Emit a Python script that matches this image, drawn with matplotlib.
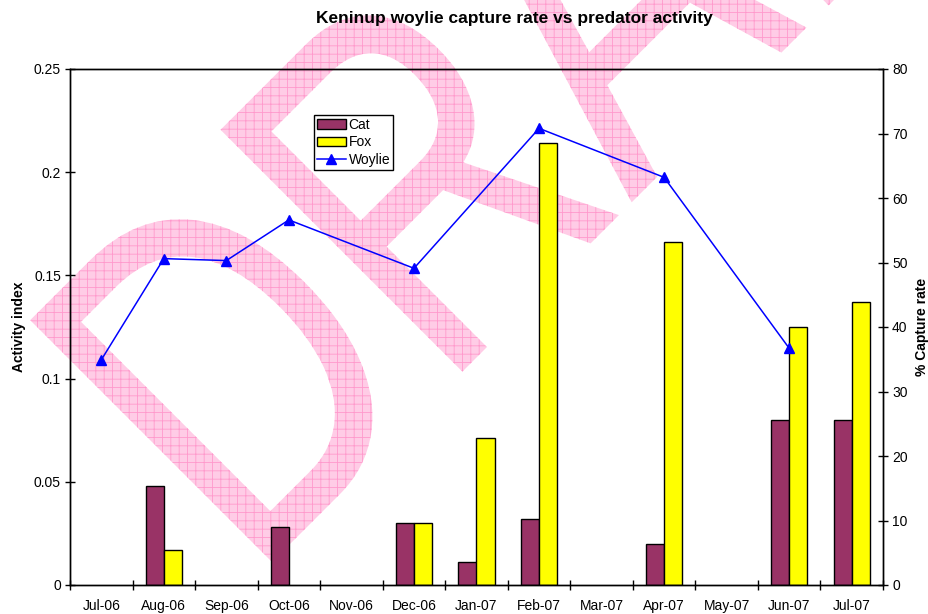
import numpy as np
import matplotlib
matplotlib.use("Agg")
import matplotlib.pyplot as plt
from matplotlib.textpath import TextPath
from matplotlib.font_manager import FontProperties
from matplotlib.patches import PathPatch
from matplotlib.transforms import Affine2D, IdentityTransform

plt.rcParams['font.family'] = ['Liberation Sans', 'DejaVu Sans']
plt.rcParams['hatch.linewidth'] = 0.6

months = ['Jul-06', 'Aug-06', 'Sep-06', 'Oct-06', 'Nov-06', 'Dec-06', 'Jan-07',
          'Feb-07', 'Mar-07', 'Apr-07', 'May-07', 'Jun-07', 'Jul-07']
cat = [np.nan, 0.048, np.nan, 0.028, np.nan, 0.030, 0.011,
       0.032, np.nan, 0.020, np.nan, 0.080, 0.080]
fox = [np.nan, 0.017, np.nan, np.nan, np.nan, 0.030, 0.071,
       0.214, np.nan, 0.166, np.nan, 0.125, 0.137]
woylie = [34.9, 50.6, 50.3, 56.6, np.nan, 49.1, np.nan,
          70.8, np.nan, 63.2, np.nan, 36.7, np.nan]

W, H = 929, 614
fig = plt.figure(figsize=(W / 100, H / 100), dpi=100)
fig.patch.set_facecolor('white')

# big hatched "DRAFT" stamp behind the chart
fp = FontProperties(family='Liberation Sans')
d_ext = TextPath((0, 0), 'D', size=100, prop=fp).get_extents()
k = 342 / d_ext.height
word = TextPath((0, 0), 'DRAFT', size=100, prop=fp)
stamp = (Affine2D().translate(-d_ext.x0, 0).scale(0.75 * k, k)
         .rotate_deg(45).translate(272, H - 562))
fig.add_artist(PathPatch(stamp.transform_path(word), facecolor='#ffcce6',
                         edgecolor='#ff99cc', hatch='++', linewidth=0,
                         transform=IdentityTransform(), zorder=-5))

ax = fig.add_axes([70 / W, (H - 585) / H, 813 / W, 516 / H])
ax.set_facecolor('none')
ax2 = ax.twinx()
ax2.set_facecolor('none')

x = np.arange(len(months))
bw = 0.29
ax.bar(x - bw / 2, cat, bw, color='#993366', edgecolor='black', linewidth=1, label='Cat')
ax.bar(x + bw / 2, fox, bw, color='#ffff00', edgecolor='black', linewidth=1, label='Fox')

w = np.array(woylie)
ok = ~np.isnan(w)
ax2.plot(x[ok], w[ok], color='#0000ff', lw=1.1, marker='^', ms=6.5, label='Woylie')

ax.set_xlim(-0.5, len(months) - 0.5)
ax.set_ylim(0, 0.25)
ax2.set_ylim(0, 80)
ax.set_yticks([0, 0.05, 0.1, 0.15, 0.2, 0.25])
ax.set_yticklabels(['0', '0.05', '0.1', '0.15', '0.2', '0.25'])
ax2.set_yticks(range(0, 90, 10))

ax.set_xticks(np.arange(-0.5, len(months)), labels=[])
ax.set_xticks(x, labels=months, minor=True)
ax.tick_params(axis='x', which='major', direction='inout', length=7, width=1)
ax.tick_params(axis='x', which='minor', length=0, pad=10, labelsize=10)
ax.tick_params(axis='y', direction='inout', length=7, width=1, labelsize=10, pad=3)
ax2.tick_params(axis='y', direction='inout', length=7, width=1, labelsize=10, pad=3)

for a in (ax, ax2):
    for sp in a.spines.values():
        sp.set_linewidth(1)
        sp.set_color('black')

ax.set_ylabel('Activity index', fontsize=10, fontweight='bold', labelpad=6)
ax2.set_ylabel('% Capture rate', fontsize=10, fontweight='bold', labelpad=5)
fig.suptitle('Keninup woylie capture rate vs predator activity', x=514 / W, y=1 - 11 / H,
             fontsize=12.5, fontweight='bold', va='top')

h1, l1 = ax.get_legend_handles_labels()
h2, l2 = ax2.get_legend_handles_labels()
leg = ax2.legend(h1 + h2, l1 + l2, loc='upper left',
                 bbox_to_anchor=(314 / W, 1 - 115 / H), bbox_transform=fig.transFigure,
                 fontsize=10, frameon=True, fancybox=False, framealpha=1,
                 borderpad=0.2, borderaxespad=0, handlelength=2.1, handletextpad=0.2,
                 labelspacing=0.25, numpoints=1)
leg.get_frame().set_edgecolor('black')
leg.get_frame().set_linewidth(1)

fig.savefig('out.png', dpi=100)
